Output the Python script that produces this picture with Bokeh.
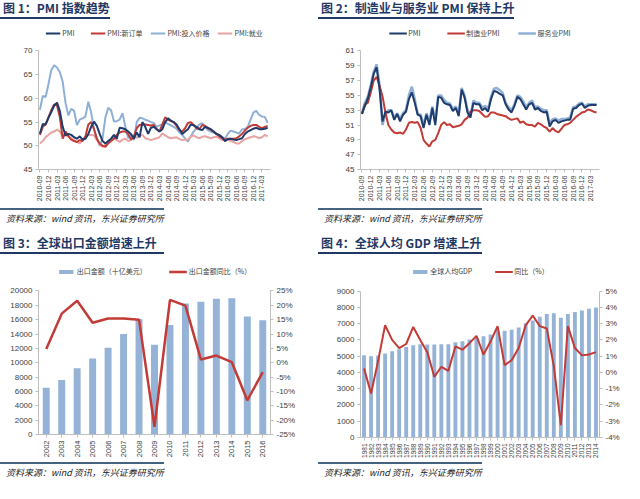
import math
from bokeh.plotting import figure
from bokeh.models import (Range1d, LinearAxis, FixedTicker, Legend, LegendItem,
                          Div, PrintfTickFormatter)
from bokeh.layouts import column, row
from bokeh.embed import file_html
from bokeh.resources import INLINE

CJK = "Noto Sans CJK SC"
LAT = "Liberation Sans"

# ---------------- data ----------------
month_ticks = ["2010-09", "2010-12", "2011-03", "2011-06", "2011-09", "2011-12",
               "2012-03", "2012-06", "2012-09", "2012-12", "2013-03", "2013-06",
               "2013-09", "2013-12", "2014-03", "2014-06", "2014-09", "2014-12",
               "2015-03", "2015-06", "2015-09", "2015-12", "2016-03", "2016-06",
               "2016-09", "2016-12", "2017-03"]

pmi = [52.6, 54.6, 54.5, 55.9, 57.1, 58.5, 59.1, 57.3, 54.0, 52.2,
       52.5, 52.3, 51.8, 51.5, 52.0, 51.3, 51.5, 52.5, 54.0, 55.1,
       54.2, 52.5, 51.0, 50.5, 51.0, 51.5, 52.3, 51.5, 53.8, 53.7,
       53.5, 53.0, 52.5, 51.5, 52.8, 51.8, 55.0, 54.0, 52.5, 53.8,
       54.0, 53.5, 53.0, 53.5, 55.0, 55.8, 55.3, 55.0, 54.5, 53.5,
       52.5, 53.0, 53.5, 54.5, 54.3, 54.0, 53.5, 53.3, 54.0, 53.8,
       53.5, 53.0, 52.5, 52.3, 51.8, 51.0, 51.4, 51.5, 51.3, 51.2,
       51.4, 51.6, 52.5, 53.0, 53.3, 53.6, 53.8, 53.5, 53.5, 53.6, 53.8]

pmi_new_orders = [52.3, 54.0, 54.5, 56.0, 57.5, 58.7, 58.5, 56.0, 51.5, 53.0,
                  52.0, 51.3, 51.0, 50.8, 51.2, 51.0, 52.0, 54.5, 55.0, 53.5,
                  51.5, 50.5, 50.0, 49.8, 50.5, 51.0, 51.5, 52.3, 52.8, 53.0,
                  53.0, 52.5, 51.3, 52.0, 53.7, 54.4, 54.5, 54.5, 54.4, 54.3,
                  54.4, 53.5, 53.0, 54.5, 56.0, 55.5, 55.2, 55.0, 54.2, 53.3,
                  53.0, 53.7, 54.8, 55.0, 54.4, 53.7, 53.5, 54.4, 54.2, 53.7,
                  53.4, 53.0, 52.5, 52.0, 51.6, 51.3, 51.5, 51.5, 51.5, 51.6,
                  52.0, 52.5, 53.2, 53.8, 54.2, 54.4, 54.4, 54.0, 53.7, 54.0, 54.2]

pmi_input_price = [57.6, 60.5, 60.3, 63.0, 66.0, 67.0, 66.5, 65.5, 63.5, 59.0,
                   56.4, 57.8, 57.4, 54.4, 55.5, 55.8, 56.2, 59.3, 57.0, 53.5,
                   51.6, 50.0, 51.5, 56.0, 58.0, 57.5, 55.1, 55.2, 55.5, 56.9,
                   54.0, 51.6, 52.3, 51.2, 55.0, 55.9, 55.8, 55.5, 55.3, 55.0,
                   54.8, 54.0, 54.3, 54.5, 55.0, 54.6, 54.3, 54.0, 53.6, 52.8,
                   52.3, 51.5, 50.9, 52.0, 53.0, 53.7, 54.5, 54.8, 54.0, 53.3,
                   53.0, 52.8, 52.6, 52.2, 51.9, 51.5, 52.5, 53.2, 53.0, 52.8,
                   52.6, 53.5, 53.5, 54.0, 55.5, 57.0, 57.4, 56.5, 56.2, 56.1, 54.8]

pmi_employment = [50.5, 51.0, 51.8, 52.3, 52.8, 53.0, 53.4, 53.0, 51.9, 52.3,
                  52.0, 51.6, 51.2, 50.8, 50.5, 51.2, 51.8, 52.3, 52.3, 52.2,
                  51.2, 50.2, 49.8, 50.2, 51.0, 51.3, 51.6, 51.2, 50.8, 51.3,
                  51.5, 51.0, 51.2, 51.9, 51.7, 52.1, 52.3, 51.6, 51.4, 51.2,
                  51.4, 51.6, 51.8, 52.6, 52.2, 51.8, 51.6, 51.7, 51.8, 51.4,
                  51.2, 51.3, 51.3, 51.9, 52.2, 51.8, 51.6, 51.9, 52.0, 51.8,
                  51.6, 51.8, 51.9, 51.6, 51.2, 51.4, 51.3, 51.0, 50.8, 50.5,
                  50.5, 51.0, 51.4, 51.6, 51.8, 52.0, 51.9, 51.6, 51.8, 52.3, 52.0]

pmi2 = [52.5, 53.6, 54.6, 56.1, 57.9, 58.8, 55.9, 51.5, 52.8, 52.7,
        53.0, 51.7, 52.5, 51.5, 52.4, 52.8, 54.5, 55.4, 54.0, 52.4,
        52.2, 50.6, 52.4, 51.0, 53.3, 51.0, 54.8, 54.7, 54.0, 53.8,
        53.7, 52.9, 53.3, 52.2, 55.8, 54.7, 52.7, 52.0, 54.0, 53.8,
        53.8, 53.0, 53.3, 52.8, 54.5, 55.6, 55.5, 55.2, 55.0, 53.8,
        53.1, 52.7, 53.6, 54.8, 54.5, 53.8, 53.1, 53.8, 54.0, 53.1,
        53.3, 52.9, 52.7, 52.8, 50.8, 51.5, 51.7, 51.3, 51.5, 51.6,
        51.7, 51.7, 53.2, 53.3, 53.7, 53.9, 53.3, 53.6, 53.7, 53.7, 53.7]

manufacturing_pmi = [52.5, 53.8, 54.0, 55.4, 57.0, 57.5, 56.3, 54.9, 52.7, 51.0,
                     50.4, 50.0, 49.9, 50.0, 49.8, 50.4, 51.3, 51.4, 51.3, 51.4,
                     50.6, 49.0, 48.5, 48.1, 48.8, 49.0, 49.9, 51.0, 51.4, 51.0,
                     51.1, 50.7, 50.8, 50.9, 51.1, 51.7, 52.0, 52.8, 53.0, 53.0,
                     52.9, 52.5, 52.1, 52.2, 52.7, 52.7, 52.5, 52.4, 52.3, 52.2,
                     51.9, 51.7, 51.8, 51.9, 51.3, 51.5, 51.1, 51.0, 51.0, 50.8,
                     51.3, 51.1, 50.8, 50.6, 50.1, 50.6, 50.2, 50.0, 50.5, 51.0,
                     51.1, 51.3, 51.7, 52.1, 52.4, 52.7, 52.8, 53.1, 53.0, 52.8, 52.7]

services_pmi = [52.6, 54.0, 54.8, 56.4, 58.2, 59.2, 56.4, 51.0, 52.5, 53.0,
                53.0, 52.0, 52.6, 51.8, 52.6, 53.0, 55.0, 56.2, 54.5, 52.5,
                52.4, 51.0, 52.6, 51.5, 53.5, 51.5, 55.0, 55.0, 54.4, 54.0,
                53.9, 53.2, 53.5, 52.5, 56.0, 55.0, 53.0, 52.3, 54.3, 54.0,
                54.0, 53.4, 53.6, 53.2, 54.8, 55.9, 56.0, 55.7, 55.3, 54.0,
                53.4, 53.0, 53.8, 55.0, 54.8, 54.2, 53.4, 54.0, 54.3, 53.4,
                53.5, 53.2, 53.0, 53.0, 51.2, 51.8, 51.9, 51.6, 51.8, 51.8,
                51.9, 52.0, 53.4, 53.5, 53.9, 54.0, 53.5, 53.8, 53.8, 53.8, 53.8]

export_years = ["2002", "2003", "2004", "2005", "2006", "2007", "2008", "2009",
                "2010", "2011", "2012", "2013", "2014", "2015", "2016"]
export_value = [6500, 7580, 9220, 10590, 12100, 14010, 16070, 12500,
                15250, 18260, 18490, 18900, 18990, 16440, 15930]
export_yoy = [4.8, 17.1, 21.6, 13.9, 15.4, 15.4, 15.0, -22.3,
              21.9, 19.9, 1.1, 2.5, 0.2, -13.1, -3.3]

gdp_years = ["1981", "1982", "1983", "1984", "1985", "1986", "1987", "1988",
             "1989", "1990", "1991", "1992", "1993", "1994", "1995", "1996",
             "1997", "1998", "1999", "2000", "2001", "2002", "2003", "2004",
             "2005", "2006", "2007", "2008", "2009", "2010", "2011", "2012",
             "2013", "2014"]
gdp_per_capita = [5060, 5000, 5050, 5170, 5310, 5430, 5570, 5680, 5740, 5720,
                  5720, 5740, 5740, 5860, 5920, 6030, 6130, 6230, 6330, 6600,
                  6560, 6620, 6760, 7020, 7200, 7420, 7600, 7640, 7370, 7600,
                  7720, 7810, 7920, 8000]
gdp_yoy = [0.25, -1.3, 0.7, 2.9, 2.0, 1.5, 1.75, 2.8, 2.0, 1.25,
           -0.27, 0.35, 0.1, 1.6, 1.4, 1.8, 2.25, 1.1, 1.9, 2.85,
           0.45, 0.75, 1.5, 2.9, 3.5, 2.85, 2.7, 0.4, -3.25, 2.85,
           1.5, 1.05, 1.1, 1.25]

NAVY = "#1F3B6B"
RED = "#C23B36"
LBLUE = "#8FB0D6"
PINK = "#E8A3A3"
BAR = "#95B3D7"
TITLE_C = "#1F3864"
SEP_C = "#45627F"


def head_room(lo, hi, extra_px, data_px):
    # range end that leaves extra_px of blank room above the data area (for the legend)
    return hi + (hi - lo) * extra_px / data_px


def base_fig(h, xr, yr, left, right):
    p = figure(width=312, height=h, output_backend="svg", toolbar_location=None,
               x_range=xr, y_range=yr, min_border_left=left, min_border_right=right)
    p.outline_line_color = None
    p.xgrid.visible = False
    p.ygrid.visible = False
    return p


def style_axis(ax, size="8px"):
    ax.axis_line_color = "#BFBFBF"
    ax.major_tick_line_color = "#BFBFBF"
    ax.minor_tick_line_color = None
    ax.major_tick_out = 3
    ax.major_tick_in = 0
    ax.major_label_text_font = LAT
    ax.major_label_text_font_size = size
    ax.major_label_text_color = "#404040"
    ax.major_label_standoff = 3


def add_legend(p, items, spacing=14, gw=18, gh=8, margin=3):
    lg = Legend(items=items, orientation="horizontal", location="top_center",
                label_text_font=CJK, label_text_font_size="7px",
                label_text_color="#404040", glyph_width=gw, glyph_height=gh,
                label_height=9, label_standoff=2, spacing=spacing, padding=2,
                margin=margin, border_line_color=None, background_fill_alpha=0)
    p.add_layout(lg, "center")


def title_html(txt, ml, mr, mt):
    return (f'<div style="margin:{mt}px {mr}px 0 {ml}px;'
            f'border-bottom:2px solid {TITLE_C};font-family:\'{CJK}\';font-size:12px;'
            f'font-weight:bold;color:{TITLE_C};line-height:16px;padding:0 0 1px 3px;'
            f'white-space:nowrap">{txt}</div>')


def source_html(ml, mr, mt):
    return (f'<div style="margin:{mt}px {mr}px 0 {ml}px;'
            f'border-top:2px solid {SEP_C};padding:3px 0 0 6px;font-family:\'{CJK}\';'
            f'font-size:9px;font-style:italic;color:#222;line-height:12px;'
            f'white-space:nowrap">资料来源：wind 资讯，东兴证券研究所</div>')


month_x = list(range(len(pmi)))
month_tick_pos = [3 * k for k in range(len(month_ticks))]

# ---------------- panel 1 ----------------
p1 = base_fig(184, Range1d(-0.5, 81), Range1d(45, head_room(45, 70, 26, 121)), 24, 14)
r_ip = p1.line(month_x, pmi_input_price, line_color=LBLUE, line_width=2)
r_emp = p1.line(month_x, pmi_employment, line_color=PINK, line_width=2)
r_no = p1.line(month_x, pmi_new_orders, line_color=RED, line_width=2)
r_pmi = p1.line(month_x, pmi, line_color=NAVY, line_width=2)
p1.yaxis.ticker = FixedTicker(ticks=[45, 50, 55, 60, 65, 70])
p1.yaxis.bounds = (45, 70)
p1.xaxis.ticker = FixedTicker(ticks=month_tick_pos)
p1.xaxis.major_label_overrides = {pos: lab for pos, lab in zip(month_tick_pos, month_ticks)}
p1.xaxis.major_label_orientation = math.pi / 2
style_axis(p1.yaxis[0])
style_axis(p1.xaxis[0], "7px")
add_legend(p1, [LegendItem(label="PMI", renderers=[r_pmi]),
                LegendItem(label="PMI:新订单", renderers=[r_no]),
                LegendItem(label="PMI:投入价格", renderers=[r_ip]),
                LegendItem(label="PMI:就业", renderers=[r_emp])],
           spacing=8, gw=15, margin=3)

# ---------------- panel 2 ----------------
p2 = base_fig(184, Range1d(-0.5, 81), Range1d(45, head_room(45, 61, 26, 121)), 35, 7)
r_srv = p2.line(month_x, services_pmi, line_color=LBLUE, line_width=2.5)
r_mfg = p2.line(month_x, manufacturing_pmi, line_color=RED, line_width=2)
r_p2 = p2.line(month_x, pmi2, line_color=NAVY, line_width=2)
p2.yaxis.ticker = FixedTicker(ticks=list(range(45, 62, 2)))
p2.yaxis.bounds = (45, 61)
p2.xaxis.ticker = FixedTicker(ticks=month_tick_pos)
p2.xaxis.major_label_overrides = {pos: lab for pos, lab in zip(month_tick_pos, month_ticks)}
p2.xaxis.major_label_orientation = math.pi / 2
style_axis(p2.yaxis[0])
style_axis(p2.xaxis[0], "7px")
add_legend(p2, [LegendItem(label="PMI", renderers=[r_p2]),
                LegendItem(label="制造业PMI", renderers=[r_mfg]),
                LegendItem(label="服务业PMI", renderers=[r_srv])], spacing=18, margin=3)

# ---------------- panel 3 ----------------
x3 = list(range(len(export_years)))
p3 = base_fig(206, Range1d(-0.5, 14.5), Range1d(0, head_room(0, 20000, 32, 146)), 38, 42)
p3.extra_y_ranges = {"pct": Range1d(-25, head_room(-25, 25, 32, 146))}
r_bar3 = p3.vbar(x=x3, top=export_value, width=0.45, fill_color=BAR, line_color=None)
r_line3 = p3.line(x3, export_yoy, y_range_name="pct", line_color=RED, line_width=2.5)
p3.yaxis.ticker = FixedTicker(ticks=list(range(0, 20001, 2000)))
p3.yaxis.bounds = (0, 20000)
ax3r = LinearAxis(y_range_name="pct", ticker=FixedTicker(ticks=list(range(-25, 26, 5))),
                  formatter=PrintfTickFormatter(format="%d%%"), bounds=(-25, 25))
p3.add_layout(ax3r, "right")
p3.xaxis.ticker = FixedTicker(ticks=x3)
p3.xaxis.major_label_overrides = {i: y for i, y in zip(x3, export_years)}
p3.xaxis.major_label_orientation = math.pi / 2
style_axis(p3.yaxis[0])
style_axis(ax3r)
style_axis(p3.xaxis[0], "7.5px")
add_legend(p3, [LegendItem(label="出口金额（十亿美元）", renderers=[r_bar3]),
                LegendItem(label="出口金额同比（%）", renderers=[r_line3])],
           spacing=22, gw=18, gh=5, margin=7)

# ---------------- panel 4 ----------------
x4 = list(range(len(gdp_years)))
p4 = base_fig(206, Range1d(-0.5, 33.5), Range1d(0, head_room(0, 9000, 32, 148)), 48, 25)
p4.extra_y_ranges = {"pct": Range1d(-4, head_room(-4, 5, 32, 148))}
r_bar4 = p4.vbar(x=x4, top=gdp_per_capita, width=0.55, fill_color=BAR, line_color=None)
r_line4 = p4.line(x4, gdp_yoy, y_range_name="pct", line_color=RED, line_width=2)
p4.yaxis.ticker = FixedTicker(ticks=list(range(0, 9001, 1000)))
p4.yaxis.bounds = (0, 9000)
ax4r = LinearAxis(y_range_name="pct", ticker=FixedTicker(ticks=list(range(-4, 6))),
                  formatter=PrintfTickFormatter(format="%d%%"), bounds=(-4, 5))
p4.add_layout(ax4r, "right")
p4.xaxis.ticker = FixedTicker(ticks=x4)
p4.xaxis.major_label_overrides = {i: y for i, y in zip(x4, gdp_years)}
p4.xaxis.major_label_orientation = math.pi / 2
style_axis(p4.yaxis[0])
style_axis(ax4r)
style_axis(p4.xaxis[0], "6.5px")
add_legend(p4, [LegendItem(label="全球人均GDP", renderers=[r_bar4]),
                LegendItem(label="同比（%）", renderers=[r_line4])],
           spacing=22, gw=18, gh=5, margin=7)

L = dict(ml=0, mr=6)
R = dict(ml=6, mr=0)
left_col = column(
    Div(text=title_html("图 1：PMI 指数趋势", mt=0, **L), width=312, height=20, margin=0),
    p1,
    Div(text=source_html(mt=4, **L) + title_html("图 3：全球出口金额增速上升", mt=10, **L),
        width=312, height=50, margin=0),
    p3,
    Div(text=source_html(mt=2, **L), width=312, height=22, margin=0),
    spacing=0)
right_col = column(
    Div(text=title_html("图 2：制造业与服务业 PMI 保持上升", mt=0, **R), width=312, height=20, margin=0),
    p2,
    Div(text=source_html(mt=4, **R) + title_html("图 4：全球人均 GDP 增速上升", mt=10, **R),
        width=312, height=50, margin=0),
    p4,
    Div(text=source_html(mt=2, **R), width=312, height=22, margin=0),
    spacing=0)
layout = row(left_col, right_col, spacing=0)

open("out.html", "w").write(file_html(layout, INLINE))
